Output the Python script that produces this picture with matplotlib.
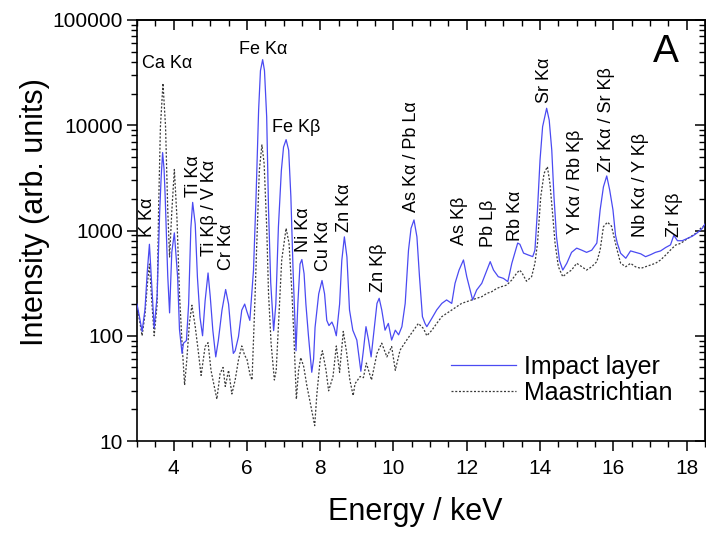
import matplotlib
matplotlib.use("Agg")
import matplotlib.pyplot as plt
from matplotlib.ticker import FixedLocator, MultipleLocator, LogLocator, NullFormatter, FuncFormatter

plt.rcParams['font.family'] = ['Liberation Sans', 'DejaVu Sans']

# ---------------- data ----------------
impact_E = [3.00, 3.07, 3.14, 3.22, 3.28, 3.34, 3.41, 3.47, 3.55, 3.62, 3.66, 3.70, 3.74, 3.77, 3.84,
            3.89, 3.95, 4.02, 4.11, 4.16, 4.23, 4.27, 4.35, 4.41, 4.47, 4.52, 4.59, 4.65, 4.72, 4.79,
            4.86, 4.94, 5.00, 5.07, 5.15, 5.22, 5.32, 5.42, 5.50, 5.57, 5.63, 5.68, 5.77, 5.86, 5.94,
            6.00, 6.08, 6.18, 6.25, 6.32, 6.37, 6.43, 6.48, 6.54, 6.59, 6.65, 6.73, 6.79, 6.86, 6.94,
            7.00, 7.07, 7.14, 7.20, 7.26, 7.34, 7.39, 7.45, 7.50, 7.56, 7.61, 7.68, 7.77, 7.82, 7.86,
            7.96, 8.05, 8.12, 8.18, 8.24, 8.32, 8.38, 8.44, 8.53, 8.59, 8.66, 8.73, 8.80, 8.89, 9.00,
            9.11, 9.18, 9.25, 9.32, 9.39, 9.47, 9.55, 9.61, 9.68, 9.77, 9.86, 9.95, 10.05, 10.14, 10.23,
            10.32, 10.41, 10.48, 10.56, 10.64, 10.71, 10.79, 10.86, 10.91, 11.05, 11.18, 11.32, 11.45,
            11.59, 11.68, 11.79, 11.91, 12.00, 12.09, 12.16, 12.27, 12.41, 12.55, 12.64, 12.73, 12.86,
            13.00, 13.12, 13.23, 13.39, 13.45, 13.55, 13.68, 13.80, 13.86, 13.93, 14.00, 14.07, 14.18,
            14.25, 14.32, 14.38, 14.45, 14.53, 14.62, 14.73, 14.86, 15.00, 15.14, 15.27, 15.41, 15.55,
            15.64, 15.73, 15.82, 15.90, 15.99, 16.06, 16.11, 16.20, 16.34, 16.47, 16.61, 16.75, 16.88,
            17.02, 17.15, 17.29, 17.43, 17.56, 17.65, 17.75, 17.88, 18.02, 18.15, 18.29, 18.43, 18.50]
impact_I = [200, 150, 110, 180, 400, 740, 280, 118, 240, 1500, 3200, 5500, 3800, 2100, 370,
            165, 620, 950, 360, 115, 68, 85, 90, 200, 1050, 1850, 1150, 360, 150, 100,
            215, 395, 235, 113, 63, 90, 175, 275, 200, 105, 68, 72, 98, 175, 200,
            170, 140, 420, 2100, 14000, 33000, 42000, 33000, 12000, 1600, 320, 112, 200, 1080, 3700,
            6200, 7300, 5800, 2100, 420, 72, 200, 480, 530, 390, 200, 100, 45, 60, 120,
            250, 335, 250, 140, 125, 135, 120, 100, 200, 520, 870, 560, 176, 113, 91,
            46, 73, 122, 91, 63, 113, 203, 227, 176, 113, 131, 91, 113, 102, 122,
            203, 650, 1050, 1260, 870, 364, 152, 131, 122, 147, 176, 203, 219,
            203, 315, 421, 525, 364, 272, 219, 272, 315, 421, 506, 421, 364,
            351, 327, 488, 760, 740, 610, 585, 565, 650, 1570, 4700, 9700, 14500,
            11200, 5800, 2100, 870, 520, 421, 488, 620, 680, 650, 620, 650, 760,
            1570, 2600, 3300, 2430, 1570, 900, 755, 607, 545, 640, 620, 600, 564,
            590, 620, 640, 690, 730, 900, 800, 800, 840, 880, 950, 1050, 1150]

maas_E = [3.00, 3.07, 3.14, 3.22, 3.28, 3.34, 3.41, 3.47, 3.55, 3.59, 3.64, 3.71, 3.78, 3.84, 3.89,
          3.95, 4.02, 4.09, 4.16, 4.23, 4.30, 4.36, 4.43, 4.50, 4.59, 4.68, 4.75, 4.86, 4.94, 5.02,
          5.18, 5.27, 5.35, 5.41, 5.50, 5.59, 5.68, 5.77, 5.86, 5.94, 6.00, 6.09, 6.14, 6.21, 6.27,
          6.34, 6.41, 6.47, 6.54, 6.59, 6.66, 6.75, 6.80, 6.86, 6.95, 7.07, 7.15, 7.23, 7.29, 7.35,
          7.41, 7.47, 7.55, 7.64, 7.73, 7.85, 7.91, 8.00, 8.06, 8.16, 8.23, 8.35, 8.44, 8.53, 8.63,
          8.72, 8.81, 8.90, 8.95, 9.09, 9.18, 9.26, 9.40, 9.55, 9.68, 9.82, 9.95, 10.05, 10.18, 10.36,
          10.55, 10.68, 10.82, 10.91, 11.05, 11.18, 11.32, 11.45, 11.59, 11.73, 11.86, 12.00, 12.14,
          12.27, 12.41, 12.55, 12.68, 12.82, 12.95, 13.09, 13.23, 13.36, 13.44, 13.50, 13.63, 13.77,
          13.86, 13.93, 14.02, 14.11, 14.20, 14.27, 14.35, 14.41, 14.50, 14.62, 14.73, 14.86, 15.00,
          15.14, 15.27, 15.41, 15.55, 15.64, 15.73, 15.84, 15.95, 16.05, 16.13, 16.20, 16.34, 16.47,
          16.60, 16.75, 16.88, 17.02, 17.15, 17.29, 17.43, 17.56, 17.70, 17.84, 17.97, 18.11, 18.25,
          18.38, 18.50]
maas_I = [190, 140, 100, 160, 300, 480, 200, 100, 200, 1570, 9700, 25000, 9700, 1570, 560,
          1500, 3800, 1350, 250, 85, 34, 59, 131, 195, 122, 68, 42, 79, 86, 47,
          25, 44, 50, 33, 47, 28, 38, 59, 80, 65, 60, 42, 38, 176, 755,
          3760, 6500, 4340, 1087, 253, 85, 38, 47, 122, 525, 1050, 755, 253, 85, 25,
          47, 62, 51, 33, 23, 14, 28, 59, 72, 47, 30, 41, 80, 45, 110,
          70, 38, 27, 35, 41, 40, 55, 38, 68, 85, 63, 79, 47, 73, 91,
          113, 131, 117, 100, 113, 131, 152, 163, 176, 189, 203, 211, 219,
          227, 235, 253, 262, 282, 293, 303, 339, 392, 420, 400, 330, 364,
          488, 755, 2100, 3490, 4040, 2800, 1350, 755, 453, 364, 392, 421, 488,
          453, 421, 453, 506, 653, 1087, 1200, 1100, 780, 600, 488, 453, 488,
          453, 437, 453, 470, 488, 525, 585, 653, 728, 755, 813, 874, 940,
          1047, 1127]

# peak labels: text, energy, intensity (anchor), rotation
label_text = ["Ca K\u03b1", "Fe K\u03b1", "Fe K\u03b2",
              "K K\u03b1", "Ti K\u03b1", "Ti K\u03b2 / V K\u03b1", "Cr K\u03b1", "Ni K\u03b1", "Cu K\u03b1",
              "Zn K\u03b1", "Zn K\u03b2", "As K\u03b1 / Pb L\u03b1", "As K\u03b2", "Pb L\u03b2", "Rb K\u03b1",
              "Sr K\u03b1", "Y K\u03b1 / Rb K\u03b2", "Zr K\u03b1 / Sr K\u03b2", "Nb K\u03b1 / Y K\u03b2", "Zr K\u03b2"]
label_E = [3.82, 6.45, 7.34,
           3.30, 4.53, 4.98, 5.43, 7.54, 8.10,
           8.67, 9.59, 10.50, 11.80, 12.59, 13.34,
           14.13, 14.97, 15.80, 16.74, 17.66]
label_I = [38200, 53000, 9620,
           867, 2080, 573, 421, 625, 412,
           968, 260, 1500, 728, 697, 794,
           16270, 926, 3600, 867, 867]
label_rot = [0, 0, 0] + [90] * 17

x_major = [4, 6, 8, 10, 12, 14, 16, 18]
y_major = [10, 100, 1000, 10000, 100000]

# ---------------- figure ----------------
fig = plt.figure(figsize=(7.06, 5.36), dpi=100)
ax = fig.add_axes([0.194, 0.1772, 0.8045, 0.7855])

ax.plot(impact_E, impact_I, color='#4a4af2', lw=0.9, label='Impact layer', zorder=3)
ax.plot(maas_E, maas_I, color='#3a3a3a', lw=0.9, linestyle=(0, (1.6, 1.4)),
        label='Maastrichtian', zorder=2)

ax.set_yscale('log')
ax.set_xlim(3, 18.5)
ax.set_ylim(10, 100000)

ax.xaxis.set_major_locator(FixedLocator(x_major))
ax.xaxis.set_minor_locator(MultipleLocator(0.5))
ax.yaxis.set_major_locator(FixedLocator(y_major))
ax.yaxis.set_minor_locator(LogLocator(base=10, subs=range(2, 10), numticks=20))
ax.yaxis.set_minor_formatter(NullFormatter())
ax.yaxis.set_major_formatter(FuncFormatter(lambda v, p: "%d" % v))
ax.xaxis.set_major_formatter(FuncFormatter(lambda v, p: "%d" % v))

ax.tick_params(axis='both', which='major', direction='out', length=7, width=1.1,
               labelsize=15, pad=3)
ax.tick_params(axis='both', which='minor', direction='out', length=4, width=1.0)
ax.tick_params(axis='x', which='major', pad=6)
for s in ax.spines.values():
    s.set_linewidth(1.2)

top = ax.secondary_xaxis('top')
top.xaxis.set_major_locator(FixedLocator(x_major))
top.xaxis.set_minor_locator(MultipleLocator(0.5))
top.tick_params(which='major', direction='in', length=7, width=1.1, labeltop=False)
top.tick_params(which='minor', direction='in', length=4, width=1.0)
top.spines['top'].set_linewidth(1.2)

right = ax.secondary_yaxis('right')
right.set_yscale('log') if hasattr(right, 'set_yscale') else None
right.yaxis.set_major_locator(FixedLocator(y_major))
right.yaxis.set_minor_locator(LogLocator(base=10, subs=range(2, 10), numticks=20))
right.tick_params(which='major', direction='in', length=7, width=1.1, labelright=False)
right.tick_params(which='minor', direction='in', length=4, width=1.0, labelright=False)
right.yaxis.set_minor_formatter(NullFormatter())

ax.set_xlabel('Energy / keV', fontsize=22)
ax.set_ylabel('Intensity (arb. units)', fontsize=22)
ax.xaxis.set_label_coords(0.49, -0.133)
ax.yaxis.set_label_coords(-0.153, 0.544)

for t, e, i, r in zip(label_text, label_E, label_I, label_rot):
    if r == 0:
        ax.text(e, i, t, fontsize=13, ha='center', va='center', zorder=4)
    else:
        ax.text(e, i, t, fontsize=13, ha='center', va='bottom', rotation=90, zorder=4)

ax.text(0.932, 0.924, 'A', transform=ax.transAxes, fontsize=28, ha='center', va='center')

ax.legend(loc='upper left', bbox_to_anchor=(0.5536, 0.205), frameon=False, fontsize=18,
          handlelength=2.6, handletextpad=0.3, labelspacing=0.1, borderpad=0, borderaxespad=0)

fig.savefig('out.png', dpi=100)
